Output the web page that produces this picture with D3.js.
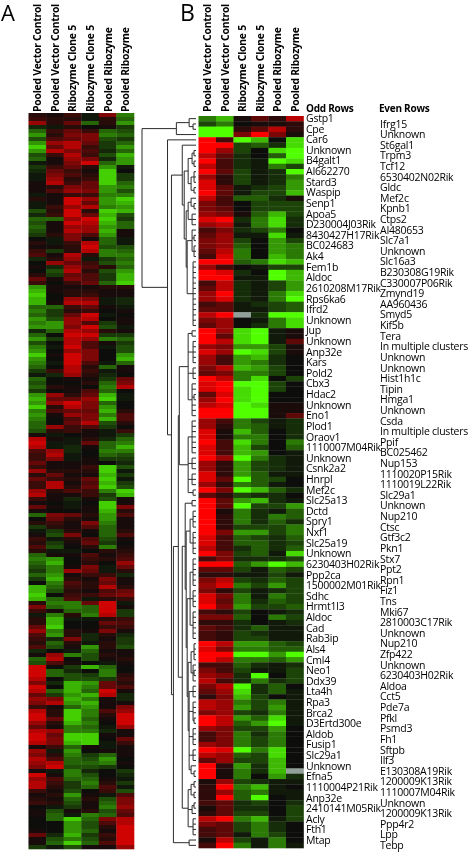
<!DOCTYPE html>
<html>
<head>
<meta charset="utf-8">
<script src="https://cdn.jsdelivr.net/npm/d3@7"></script>
<style>
  html, body { margin: 0; background: #fff; }
  svg { display: block; filter: blur(0.35px); }
  text { font-family: "Open Sans", sans-serif; fill: #000; letter-spacing: -0.25px; }
</style>
</head>
<body>
<div id="chart"></div>
<script>
// levels: 1-9 red, 0 black, a-i green (i brightest), x missing
var columnNames = ["Pooled Vector Control", "Pooled Vector Control", "Ribozyme Clone 5", "Ribozyme Clone 5", "Pooled Ribozyme", "Pooled Ribozyme"];

var oddRows = ["Gstp1","Cpe","Car6","Unknown","B4galt1","AI662270","Stard3","Waspip","Senp1","Apoa5","D230004J03Rik","8430427H17Rik","BC024683","Ak4","Fem1b","Aldoc","2610208M17Rik","Rps6ka6","Ifrd2","Unknown","Jup","Unknown","Anp32e","Kars","Pold2","Cbx3","Hdac2","Unknown","Eno1","Plod1","Oraov1","1110007M04Rik","Unknown","Csnk2a2","Hnrpl","Mef2c","Slc25a13","Dctd","Spry1","Nxf1","Slc25a19","Unknown","6230403H02Rik","Ppp2ca","1500002M01Rik","Sdhc","Hrmt1l3","Aldoc","Cad","Rab3ip","Als4","Cml4","Neo1","Ddx39","Lta4h","Rpa3","Brca2","D3Ertd300e","Aldob","Fusip1","Slc29a1","Unknown","Efna5","1110004P21Rik","Anp32e","2410141M05Rik","Acly","Fth1","Mtap"];

var evenRows = ["Ifrg15","Unknown","St6gal1","Trpm3","Tcf12","6530402N02Rik","Gldc","Mef2c","Kpnb1","Ctps2","AI480653","Slc7a1","Unknown","Slc16a3","B230308G19Rik","C330007P06Rik","Zmynd19","AA960436","Smyd5","Kif5b","Tera","In multiple clusters","Unknown","Unknown","Hist1h1c","Tipin","Hmga1","Unknown","Csda","In multiple clusters","Ppif","BC025462","Nup153","1110020P15Rik","1110019L22Rik","Slc29a1","Unknown","Nup210","Ctsc","Gtf3c2","Pkn1","Stx7","Ppt2","Rpn1","Fiz1","Tns","Mki67","2810003C17Rik","Unknown","Nup210","Zfp422","Unknown","6230403H02Rik","Aldoa","Cct5","Pde7a","Pfkl","Psmd3","Fh1","Sftpb","Ilf3","E130308A19Rik","1200009K13Rik","1110007M04Rik","Unknown","1200009K13Rik","Ppp4r2","Lpp","Tebp"];

var panelBRows = [
  "eg1427","ce0112","ii2472","ii5951","93ig0h","99cdbh","96c0hi","74b0di","93baih","73baec",
  "94cabi","62cabe","82cabf","84abcf","94accg","73ddb1","530ccc","540ccc","651dgc","89behb",
  "67aehb","35bce0","46aaha","56c0fc","56d0fe","47e0fe","38e0ge","99dehg","630acc","98b0ig",
  "99aaig","37bacf","47bacf","69baeh","68baei","34abcd","44aacd","79xbii","560aeh","460beh",
  "96hia1","94hia1","97hia4","65ffc1","86ihc1","63fgb0","63feb0","57gfc0","45eec0","97eh0c",
  "89iic0","89hic0","48hi00","69hi00","78ih11","99ii11","99ii14","63ecab","62edab","81gd0b",
  "81ee0b","93he0e","83gc0d","83gf0a","96ieba","62fcba","62fcba","82fdaa","84idc0","62eda0",
  "95igdb","42cbb0","94fgba","94iccf","91ebad","92ebed","92ebdb","92ccce","95ffce","83dcbd",
  "83ddbc","73bdbd","95cdah","35bbbc","99dfig","44cadc","22aaca","57cbdc","68ecfc","52cabc",
  "85eaec","84ebdc","95fccd","32c0ab","55d0ec","22b0ab","43bdaa","32cbaa","32ccaa","97ffdc",
  "85eedd","99iifi","97eedf","33dbab","53caac","65bi0c","73bebc","57ibd0","46hbda","25gc0a",
  "76ecea","76fcfa","56cbea","97fdha","97dfia","65ccf0","35ebe0","35ece0","65ece0","98ieh0",
  "76dch0","46ccg0","92fbg0","91ebgx","91e0fb","16cbaa","29ega0","26deaa","29di0a","34bc0b",
  "14bb0c","24cc0c","79egac","54ceb0","34ceb0","34aec0","17cae0","39eaea"
];

var panelARows = [
  "213a6f","322a2e","725e2g","ba201c","e353ed","g266fe","d456dc","g785ce","i583cg","g864be",
  "d383dh","e176bg","a169eg","c352ga","b531i0","a642ic","a723ic","1835ie","1265gf","1476gd",
  "a133ff","2197gi","a195gh","a378fg","d292ih","b395hd","ee79ic","d198he","e177ge","d187h1",
  "c264g1","0a61ea","2a38ea","1129dd","3c28fe","4182ff","b27ace","0753df","1b742e","0d82dg",
  "2c54ch","5164ch","3035ei","g11122","h12211","i02311","h076ab","h188ab","ee351a","fc2301",
  "ec59a0","gd7801","fg74c1","gg69da","be8721","e099cc","gc87fe","d0841c","fa94ad","g0760d",
  "i1960g","g0960h","fa94ae","e082e1","c383a1","ab72b0","e011c5","d002e6","e210f8","c014e0",
  "g725ha","h557ia","g796e0","i286g0","f455h2","g176f4","f046h4","e058d2","e734c0","d231a3",
  "1a01ac","81a2be","9aa5ef","8ab1eh","47b0ff","38a0ed","36a1cc","51110b","3113id","7222ia",
  "2511hc","5325ia",
  "3814hc","3825id","7243fi","8113ch","31b1d1","10a0i1","51a1i6","1001h2","e652g4","0521g1",
  "2316f1","c214e1","ac21e2","1d60e4","3a24d1","2c15c0","4d02f1","2aa022","e11413","fg0324",
  "eh0207","df16a5","cf75a2","eg133b","ch2161","0f4251","he3282","hd2145","i03356","he4a23",
  "2ff59a","6efe91","31ee9c","af2f8c","2haa23","2h0054","5i0033","7f2161","4g2b2b","3b6b1c",
  "2e2a2c","4d1g2d","b0ae11","17fd21","e80d12","d410a1","90che0","9eb0f0","9edcf2","80ddc3",
  "6bhg52","90hf54","8ehe91","5cgh8b","76hf1b","68gh11","31eg16","82if47","92if29","95ie19",
  "72hf09","51fea7","87ffb1","95ii11","96ii05","86hia3","13e1a1","7ag011","62fce1","84edg0",
  "78eef1","69ddc0","1afb0c","91fd0b","74ee1a","83cf2c","82ce4a","31d03d","12g1a4","21e2d6",
  "32d1e6","0ac1f7","1d12d5","1eafe4","0eie68","00gd48","00gd29","10ge19","5bhc39","1dfd29",
  "1eie49","cad117"
];

// nested as [distance, child, child...], a bare number is a row of panel B
var dendroTree = [55,
  [20, [7, 0, [3, 1, 2]], 3],
  [29, 4,
    [25,
      [14, 5,
        [12,
          [8, [4, [2, 6, 7], [2, 8, 9]], [5, [2, 10, 11, 12], [2, 13, 14]]],
          [10,
            [8, [5, 15, [2, 16, 17]], [4, 18, 19, 20]],
            [9, [4, 21, [2, 22, 23], [2, 24, 25, 26]], [3, 27, 28, 29, 30, 31, 32, 33, 34, 35, 36, 37, 38, 39]]
          ]
        ]
      ],
      [23,
        [18,
          [17,
            [8, [4, 40, 41], [3, 42, 43, 44, 45, 46], [3, 47, 48, 49], [4, 50, 51, [2, 52, 53], 54, 55, 56]],
            [8, [4, 57, 58, 59, 60, 61, 62, 63], [4, 64, 65, 66], [4, 67, 68, 69], [3, 70, 71]]
          ],
          [14,
            [11, [4, 72, 73],
              [10,
                [6, [3, 74, 75, 76, 77], [3, 78, 79, 80, 81, 82]],
                [9,
                  [6, [3, 83, 84, 85, 86, 87, 88], [3, 89, 90, 91, 92], [3, 93, 94, 95, 96, 97, 98]],
                  [8,
                    [5, [2, 99, 100, 101, 102], [3, 103, [2, 104, 105], 106]],
                    [7, [3, 107, 108, 109], [3, 110, 111, 112, [2, 113, 114]], [3, 115, 116, 117, 118], [3, 119, 120, 121], [5, 122, [2, 123, 124]]]
                  ]
                ]
              ]
            ],
            [8, [5, [2, 125, 126], [2, 127, 128]], [4, [2, 129, 130], 131], [3, 132, 133, 134, 135]]
          ]
        ],
        [7, 136, 137]
      ]
    ]
  ]
];

var width = 468, height = 852;

var svg = d3.select("#chart").append("svg")
  .attr("width", width)
  .attr("height", height);

// dark middle, only the top levels reach full colour
var heatColor = d3.scalePow().exponent(1.35)
  .domain([-9, 0, 9])
  .range(["#50ff00", "#0d0d0b", "#ff0000"])
  .clamp(true);

function levelOf(c) {
  if (c === "x") return null;
  if (c >= "a" && c <= "i") return -(c.charCodeAt(0) - 96);
  return +c;
}

var columnIndex = d3.range(columnNames.length);

// one heatmap with its rotated column titles, gain dims a panel
function drawPanel(rows, left, right, top, bottom, gain) {
  var x = d3.scaleBand().domain(columnIndex).range([left, right]);
  var y = d3.scaleBand().domain(d3.range(rows.length)).range([top, bottom]);

  var g = svg.append("g");
  var row = g.selectAll("g")
    .data(rows)
    .enter()
    .append("g");

  row.selectAll("rect")
    .data(function(d, i){
      return d.split("").map(function(c, j){ return {row: i, col: j, level: levelOf(c)}; });
    })
    .enter()
    .append("rect")
    .attr("x", function(d){ return x(d.col); })
    .attr("y", function(d){ return y(d.row); })
    .attr("width", x.bandwidth() + 0.3)
    .attr("height", y.bandwidth() + 0.3)
    .attr("fill", function(d){ return d.level === null ? "#93a09a" : heatColor(d.level * gain); });

  svg.append("g").selectAll("text")
    .data(columnNames)
    .enter()
    .append("text")
    .attr("transform", function(d, i){
      return "translate(" + (x(i) + x.bandwidth() / 2 + 4) + ",112) rotate(-90)";
    })
    .attr("font-size", 10.4)
    .attr("font-weight", 700)
    .text(function(d){ return d; });
  return y;
}

drawPanel(panelARows, 28.5, 134, 113, 849, 0.85);
var rowY = drawPanel(panelBRows, 198.5, 303.5, 116, 848, 1);

// dendrogram
var dendroX = d3.scaleLinear().domain([0, 55]).range([196, 142]);
var root = d3.hierarchy(dendroTree, function(d){
  return Array.isArray(d) ? d.slice(1) : null;
});
root.eachAfter(function(n){
  if (n.children) {
    n.dist = n.data[0];
    n.py = (n.children[0].py + n.children[n.children.length - 1].py) / 2;
  } else {
    n.dist = 0;
    n.py = rowY(n.data) + rowY.bandwidth() / 2;
  }
});

svg.append("g").selectAll("path")
  .data(root.descendants().filter(function(n){ return n.children; }))
  .enter()
  .append("path")
  .attr("fill", "none")
  .attr("stroke", "#2b2b2b")
  .attr("stroke-width", 1)
  .attr("d", function(n){
    var px = dendroX(n.dist);
    var kids = n.children;
    var p = "M" + px + "," + kids[0].py + "V" + kids[kids.length - 1].py;
    kids.forEach(function(k){
      p += "M" + px + "," + k.py + "H" + dendroX(k.dist);
    });
    return p;
  });

// gene labels
var oddY = d3.scalePoint().domain(d3.range(oddRows.length)).range([122, 844]);
var evenY = d3.scalePoint().domain(d3.range(evenRows.length)).range([127.5, 849]);

svg.append("g").selectAll("text")
  .data(oddRows)
  .enter()
  .append("text")
  .attr("x", 306)
  .attr("y", function(d, i){ return oddY(i); })
  .attr("font-size", 10.5)
  .text(function(d){ return d; });

svg.append("g").selectAll("text")
  .data(evenRows)
  .enter()
  .append("text")
  .attr("x", 380)
  .attr("y", function(d, i){ return evenY(i); })
  .attr("font-size", 10.5)
  .text(function(d){ return d; });

svg.append("text").attr("x", 306).attr("y", 112).attr("font-size", 10).attr("font-weight", 700).text("Odd Rows");
svg.append("text").attr("x", 379).attr("y", 112).attr("font-size", 10).attr("font-weight", 700).text("Even Rows");

svg.append("text").attr("x", 1).attr("y", 21).attr("font-size", 22).text("A");
svg.append("text").attr("x", 180).attr("y", 21).attr("font-size", 23).text("B");
</script>
</body>
</html>
